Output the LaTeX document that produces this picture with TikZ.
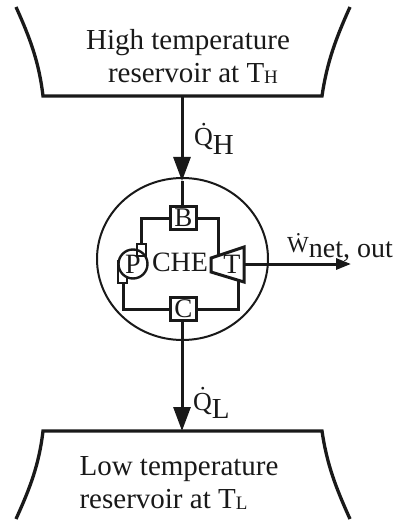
\documentclass[tikz,border=0pt]{standalone}
\usepackage{fontspec}
\usepackage{xcolor}
\setmainfont{Liberation Serif}
\usetikzlibrary{
	arrows.meta,
	calc,
	positioning,
	shapes.geometric
}
\definecolor{InkBlack}{RGB}{25,25,25}
\tikzset{
	wall/.style={line width=3.3pt, InkBlack},
	pipe/.style={line width=3pt, InkBlack},
	flow/.style={line width=3pt, InkBlack},
	heavyhead/.style={-{Triangle[length=24pt, width=17pt]}},
	lighthead/.style={-{Triangle[length=15pt, width=11pt]}},
	label/.style={font=\fontsize{29}{33}\selectfont, text=InkBlack, inner sep=0pt},
	tag/.style={font=\fontsize{28}{30}\selectfont, text=InkBlack, inner sep=0pt},
	unitbox/.style={draw=InkBlack, line width=3pt, minimum width=26pt, minimum height=23pt, inner sep=0pt, fill=white, font=\fontsize{27}{28}\selectfont, text=InkBlack}
}
\begin{document}
\begin{tikzpicture}[x=1pt, y=-1pt]
	\useasboundingbox (0,0) rectangle (399,521);

	% hot reservoir
	\coordinate (hotBase) at (182,96);
	\draw[wall] (16,7) .. controls (30,38) and (39,62) .. (43,96) -- (322,96) .. controls (327,62) and (336,38) .. (350,7);
	\node[label, align=center] (hotText) at (188,56) {High temperature\\\hspace*{10pt}reservoir at T\raisebox{-1pt}{\fontsize{19}{19}\selectfont H}};

	% cold reservoir
	\coordinate (coldBase) at (182,431);
	\draw[wall] (16,519) .. controls (30,488) and (39,465) .. (43,431) -- (322,431) .. controls (327,465) and (336,488) .. (350,519);
	\node[label, align=left] (coldText) at (179,483) {Low temperature\\reservoir at T\raisebox{-1pt}{\fontsize{19}{19}\selectfont L}};

	% engine boundary
	\node[draw=InkBlack, line width=2pt, ellipse, minimum width=171pt, minimum height=162pt, inner sep=0pt] (engine) at (182.5,259) {};

	% components
	\node[unitbox] (B) at (183.5,218) {B};
	\node[unitbox] (C) at (183.5,309) {C};
	\node[tag] (CHE) at (180,262) {CHE};

	% turbine
	\draw[pipe] (211,258) coordinate (turbA) -- (244,247) coordinate (turbB) -- (244,282) coordinate (turbC) -- (211,272) coordinate (turbD) -- cycle;
	\node[tag] (T) at (232,264) {T};
	\coordinate (turbIn) at (218,255.5);
	\coordinate (turbOut) at (238,280);
	\coordinate (turbShaft) at (244,264);

	% pump
	\node[draw=InkBlack, line width=2.4pt, circle, minimum size=29pt, inner sep=0pt, tag] (P) at (133,264) {P};
	\draw[line width=2.2pt, InkBlack] (137,244) rectangle (146,256);
	\draw[line width=2.2pt, InkBlack] (118,260) -- (118,283) -- (127,283) -- (127,278);
	\coordinate (pumpOut) at (141,244);
	\coordinate (pumpIn) at (123,283);

	% piping loop
	\draw[pipe] (B.west) -| (pumpOut);
	\draw[pipe] (B.east) -| (turbIn);
	\draw[pipe] (C.west) -| (pumpIn);
	\draw[pipe] (C.east) -| (turbOut);

	% heat and work flows
	\coordinate (hotTip) at (182,181);
	\coordinate (coldTip) at (182,431);
	\coordinate (workTip) at (351,264);
	\draw[flow, heavyhead] (hotBase) -- (hotTip);
	\draw[flow] (hotTip) -- (B.north -| hotTip);
	\draw[flow, heavyhead] (C.south -| coldTip) -- (coldTip);
	\draw[flow, lighthead] (turbShaft) -- (workTip);

	\node[label, anchor=base west] (qHot) at (194,146) {\fontsize{26}{26}\selectfont\.Q\raisebox{-9pt}{\fontsize{29}{29}\selectfont H}};
	\node[label, anchor=base west] (qCold) at (193,410) {\fontsize{26}{26}\selectfont\.Q\raisebox{-8pt}{\fontsize{29}{29}\selectfont L}};
	\node[label, anchor=base west] (wNet) at (287,252) {\fontsize{23}{23}\selectfont\.W\raisebox{-5pt}{\fontsize{28}{28}\selectfont net, out}};
\end{tikzpicture}
\end{document}
